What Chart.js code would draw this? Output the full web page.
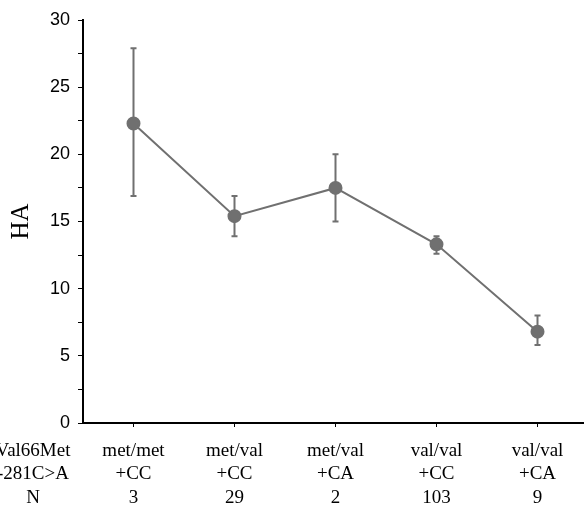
<!DOCTYPE html>
<html>
<head>
<meta charset="utf-8">
<script src="https://cdn.jsdelivr.net/npm/chart.js@4.4.0/dist/chart.umd.min.js"></script>
<style>
  html, body { margin: 0; padding: 0; background: #fff; overflow: hidden; }
  #wrap { width: 596px; height: 506px; }
</style>
</head>
<body>
<div id="wrap"><canvas id="haChart"></canvas></div>
<script>
// data
var groups = [['met/met', '+CC', '3'], ['met/val', '+CC', '29'], ['met/val', '+CA', '2'], ['val/val', '+CC', '103'], ['val/val', '+CA', '9']];
var rowHeader = ['Val66Met', '-281C>A', 'N'];
var means = [22.3, 15.4, 17.5, 13.3, 6.8];
var upper = [27.9, 16.9, 20.0, 13.9, 8.0];
var lower = [16.9, 13.9, 15.0, 12.6, 5.8];
var yTicks = [0, 5, 10, 15, 20, 25, 30];

var grey = '#707070';
var serif = '"Liberation Serif", "Times New Roman", serif';
var sans = '"Liberation Sans", Arial, sans-serif';

var errorBars = {
  id: 'errorBars',
  afterDatasetsDraw: function (chart) {
    var c = chart.ctx, xs = chart.scales.x, ys = chart.scales.y;
    c.save();
    c.strokeStyle = grey;
    c.lineWidth = 2;
    means.forEach(function (m, i) {
      var x = xs.getPixelForValue(i);
      var t = ys.getPixelForValue(upper[i]), b = ys.getPixelForValue(lower[i]);
      c.beginPath();
      c.moveTo(x, t); c.lineTo(x, b);
      c.moveTo(x - 3, t); c.lineTo(x + 3, t);
      c.moveTo(x - 3, b); c.lineTo(x + 3, b);
      c.stroke();
    });
    c.restore();
  }
};

// the "Val66Met / -281C>A / N" row header left of the axis
var rowLabels = {
  id: 'rowLabels',
  afterDraw: function (chart) {
    var c = chart.ctx, xs = chart.scales.x;
    c.save();
    c.font = '19px ' + serif;
    c.fillStyle = '#000';
    c.textAlign = 'center';
    c.textBaseline = 'middle';
    rowHeader.forEach(function (t, i) {
      c.fillText(t, xs.left - 50, xs.top + 28 + i * 23.5);
    });
    c.restore();
  }
};

var chart = new Chart(document.getElementById('haChart'), {
  type: 'line',
  data: {
    labels: groups,
    datasets: [{
      data: means,
      borderColor: grey,
      backgroundColor: grey,
      borderWidth: 2,
      pointRadius: 6,
      pointHoverRadius: 6,
      tension: 0
    }]
  },
  options: {
    responsive: true,
    maintainAspectRatio: false,
    animation: false,
    layout: { padding: { top: 20, right: 0, left: 0, bottom: 0 } },
    plugins: { legend: { display: false }, tooltip: { enabled: false } },
    scales: {
      x: {
        offset: true,
        border: { color: '#000', width: 2 },
        grid: { display: true, drawOnChartArea: false, color: '#000', tickLength: 4, offset: false },
        ticks: { color: '#000', font: { family: serif, size: 19, lineHeight: 23.5 / 19 }, padding: 12, maxRotation: 0, autoSkip: false },
        afterFit: function (s) { s.height = 83; }
      },
      y: {
        min: 0, max: 30,
        border: { color: '#000', width: 2 },
        grid: { display: true, drawOnChartArea: false, color: '#000', tickLength: 5 },
        ticks: {
          stepSize: 2.5,
          color: '#000',
          font: { family: sans, size: 18 },
          padding: 8,
          callback: function (v) { return yTicks.indexOf(v) >= 0 ? String(v) : ''; }
        },
        title: { display: true, text: 'HA', color: '#000', font: { family: serif, size: 25 }, padding: { top: 6, bottom: 4 } },
        afterFit: function (s) { s.width = 83; }
      }
    }
  },
  plugins: [errorBars, rowLabels]
});
</script>
</body>
</html>
